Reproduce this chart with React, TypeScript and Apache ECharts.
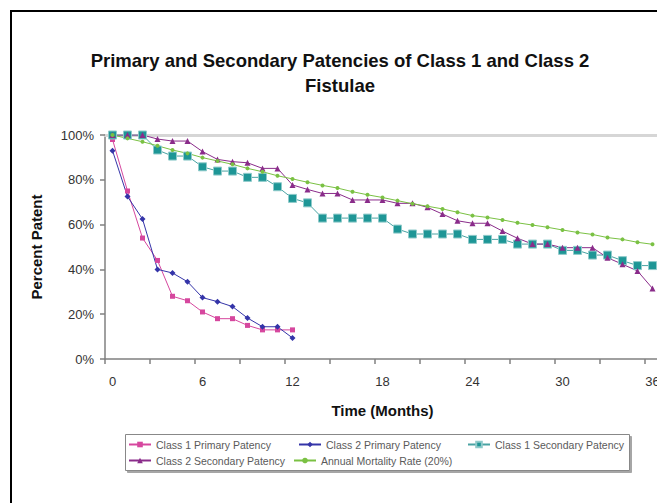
import React, { useEffect, useRef } from "react";
import * as echarts from "echarts";

const months = ["0","1","2","3","4","5","6","7","8","9","10","11","12","13","14","15","16","17","18","19","20","21","22","23","24","25","26","27","28","29","30","31","32","33","34","35","36"];

const class1Primary = [98, 75, 54, 44, 28, 26, 21, 18, 18, 15, 13, 13, 13];
const class2Primary = [93, 72.5, 62.5, 40, 38.4, 34.5, 27.4, 25.6, 23.4, 18.3, 14.4, 14.4, 9.4];
const class1Secondary = [100, 100, 100, 93.3, 90.6, 90.6, 85.8, 83.9, 83.9, 81.1, 81.1, 76.9, 71.7, 69.7, 62.9, 62.9, 62.9, 62.9, 62.9, 58, 55.8, 55.8, 55.8, 55.8, 53.4, 53.4, 53.4, 51.3, 51.3, 51.3, 48.5, 48.5, 46.4, 46.4, 43.9, 41.7, 41.7];
const class2Secondary = [100, 100, 100, 98.2, 97.3, 97.3, 92.6, 89.1, 88.1, 87.6, 85.1, 85.1, 77.7, 75.7, 73.9, 73.9, 71, 71, 71, 69.5, 69.5, 67.7, 64.7, 61.7, 60.6, 60.6, 57.1, 53.9, 51.3, 51.3, 49.7, 49.7, 49.7, 45.2, 42.3, 39.3, 31.5];
const mortality = [100, 98.5, 97, 95.2, 93.3, 91.8, 89.9, 88.4, 86.9, 85.1, 83.6, 81.8, 80.4, 78.9, 77.5, 76.3, 74.7, 73.3, 72.1, 70.7, 69.3, 68.2, 67, 65.5, 64, 63.2, 62.1, 60.8, 59.8, 58.8, 57.6, 56.5, 55.6, 54.2, 53.4, 52.1, 51.2];

const seriesNames = [
  "Class 1 Primary Patency",
  "Class 2 Primary Patency",
  "Class 1 Secondary Patency",
  "Class 2 Secondary Patency",
  "Annual Mortality Rate (20%)",
];

const FONT = "'Liberation Sans', Arial, sans-serif";

export default function App() {
  const ref = useRef<HTMLDivElement>(null);
  useEffect(() => {
    if (!ref.current) return;
    const chart = echarts.init(ref.current, undefined, { renderer: "svg" });
    const legendPos = [
      { left: 128, top: 439 },
      { left: 298, top: 439 },
      { left: 467, top: 439 },
      { left: 128, top: 455 },
      { left: 293, top: 455 },
    ];
    chart.setOption({
      animation: false,
      backgroundColor: "#ffffff",
      title: {
        text: "Primary and Secondary Patencies of Class 1 and Class 2\nFistulae",
        left: 340,
        top: 48,
        padding: 0,
        textAlign: "center",
        textStyle: { fontFamily: FONT, fontSize: 18.5, fontWeight: "bold", color: "#111", lineHeight: 25 },
      },
      graphic: [
        {
          type: "rect",
          z: -10,
          shape: { x: 11, y: 11, width: 700, height: 600 },
          style: { fill: "none", stroke: "#000", lineWidth: 2 },
        },
        {
          type: "rect",
          z: 1,
          shape: { x: 125.5, y: 434.5, width: 504, height: 36 },
          style: {
            fill: "#fff",
            stroke: "#888",
            lineWidth: 1,
            shadowColor: "rgba(0,0,0,0.35)",
            shadowOffsetX: 2,
            shadowOffsetY: 2,
            shadowBlur: 0,
          },
        },
      ],
      legend: seriesNames.map((n, i) => ({
        data: [n],
        left: legendPos[i].left,
        top: legendPos[i].top,
        padding: 0,
        itemWidth: 22,
        itemHeight: 7,
        itemGap: 0,
        z: 10,
        textStyle: { fontFamily: FONT, fontSize: 10.5, color: "#5a5a5a" },
      })),
      grid: { left: 105, top: 135, width: 555, height: 224, containLabel: false, outerBoundsMode: "none" },
      xAxis: [
        {
          type: "category",
          data: months,
          boundaryGap: true,
          name: "Time (Months)",
          nameLocation: "middle",
          nameGap: 44,
          nameTextStyle: { fontFamily: FONT, fontSize: 15, fontWeight: "bold", color: "#111" },
          axisLine: { lineStyle: { color: "#808080", width: 1.5 } },
          axisTick: { show: true, interval: 2, length: 5, inside: false, lineStyle: { color: "#808080", width: 1.5 } },
          axisLabel: { interval: 5, margin: 16, fontFamily: FONT, fontSize: 13, color: "#333" },
          splitLine: { show: false },
        },
        {
          type: "category",
          data: months,
          position: "top",
          axisLine: { lineStyle: { color: "#d6d6d6", width: 3 } },
          axisTick: { show: false },
          axisLabel: { show: false },
          splitLine: { show: false },
        },
      ],
      yAxis: {
        type: "value",
        min: 0,
        max: 100,
        interval: 20,
        name: "Percent Patent",
        nameLocation: "middle",
        nameRotate: 90,
        nameGap: 61,
        nameTextStyle: { fontFamily: FONT, fontSize: 15, fontWeight: "bold", color: "#111" },
        axisLine: { show: true, lineStyle: { color: "#808080", width: 1.5 } },
        axisTick: { show: true, length: 5, inside: false, lineStyle: { color: "#808080", width: 1.5 } },
        axisLabel: { formatter: "{value}%", margin: 11, fontFamily: FONT, fontSize: 13, color: "#333" },
        splitLine: { show: false },
      },
      series: [
        {
          name: seriesNames[0],
          type: "line",
          data: class1Primary,
          symbol: "rect",
          symbolSize: 5,
          itemStyle: { color: "#d6479e" },
          lineStyle: { color: "#d6479e", width: 1 },
        },
        {
          name: seriesNames[1],
          type: "line",
          data: class2Primary,
          symbol: "diamond",
          symbolSize: 6,
          itemStyle: { color: "#3434a8" },
          lineStyle: { color: "#3434a8", width: 1 },
        },
        {
          name: seriesNames[2],
          type: "line",
          data: class1Secondary,
          symbol: "rect",
          symbolSize: 8,
          itemStyle: { color: "#1e9696", borderColor: "#8fcaca", borderWidth: 1 },
          lineStyle: { color: "#4aa3a3", width: 1 },
        },
        {
          name: seriesNames[3],
          type: "line",
          data: class2Secondary,
          symbol: "triangle",
          symbolSize: 6,
          itemStyle: { color: "#8a2c8a" },
          lineStyle: { color: "#8a2c8a", width: 1 },
        },
        {
          name: seriesNames[4],
          type: "line",
          data: mortality,
          symbol: "circle",
          symbolSize: 4,
          itemStyle: { color: "#7ac143" },
          lineStyle: { color: "#7ac143", width: 1 },
        },
      ],
    });
    return () => chart.dispose();
  }, []);
  return (
    <div
      ref={ref}
      style={{ position: "absolute", left: 0, top: 0, width: 657, height: 503, overflow: "hidden" }}
    />
  );
}
